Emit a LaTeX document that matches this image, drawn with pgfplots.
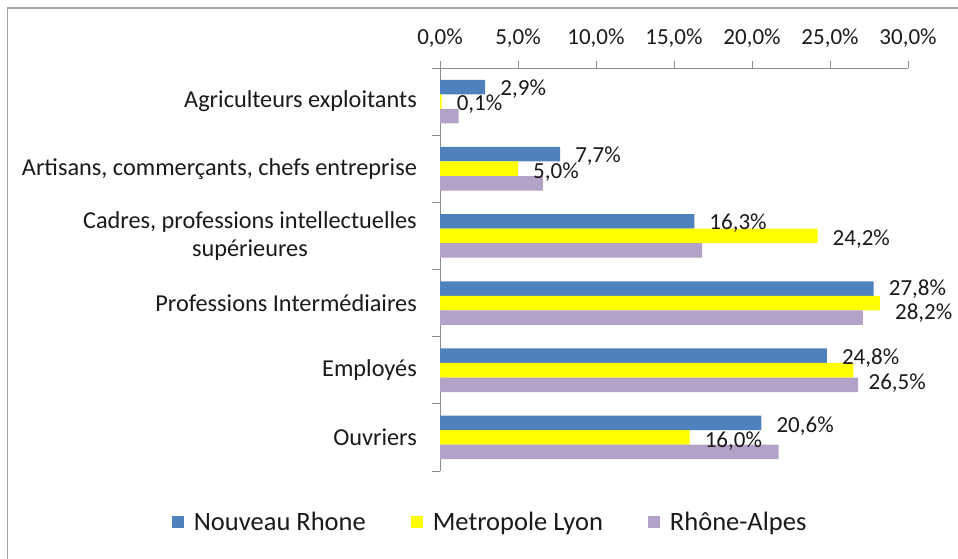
\documentclass[border=0pt]{standalone}
\usepackage{fontspec}
\setmainfont{Carlito}
\usepackage{pgfplots}
\usepackage{pgfplotstable}
\pgfplotsset{compat=1.18}
\definecolor{nrblue}{HTML}{4F81BD}
\definecolor{mlyellow}{HTML}{FFFF00}
\definecolor{rapurple}{HTML}{B3A2C7}
\definecolor{axgray}{HTML}{8C8C8C}
\definecolor{txt}{HTML}{1A1A1A}

\pgfplotstableread{
y x dy
5 2.9 -2
4 7.7 -2
3 16.3 -2
2 27.8 -1
1 24.8 -2
0 20.6 -3
}\nrdata
\pgfplotstableread{
y x dy
5 0.1 -3
4 5.0 -3
3 24.2 -3
2 28.2 -10
1 26.5 -13
0 16.0 -4
}\mldata
\pgfplotstableread{
y x
5 1.2
4 6.6
3 16.8
2 27.1
1 26.8
0 21.7
}\radata

\begin{document}
\begin{tikzpicture}[x=1pt,y=1pt]
\path[use as bounding box] (0,0) rectangle (958,559);
\draw[gray!70, line width=1.5pt] (7.5,-5) -- (7.5,551) -- (965,551);
\begin{axis}[
  at={(440pt,88pt)}, anchor=south west,
  scale only axis, width=468pt, height=403pt,
  xbar, clip=false,
  xmin=0, xmax=30, ymin=-0.5, ymax=5.5,
  axis x line*=top, axis y line*=left,
  axis line style={axgray, line width=0.9pt},
  tick align=outside,
  major tick length=7pt, minor tick length=8pt,
  tick style={axgray, line width=0.9pt},
  major y tick style={draw=none},
  xtick={0,5,...,30},
  xticklabels={{0,0\%},{5,0\%},{10,0\%},{15,0\%},{20,0\%},{25,0\%},{30,0\%}},
  ytick={0,...,5},
  minor ytick={-0.5,0.5,...,5.5},
  yticklabels={Ouvriers, Employés, Professions Intermédiaires, {Cadres, professions intellectuelles\\supérieures}, {Artisans, commerçants, chefs entreprise}, Agriculteurs exploitants},
  xticklabel style={font=\fontsize{23}{28}\selectfont, text=txt, inner sep=0pt, yshift=13pt},
  yticklabel style={font=\fontsize{24.3}{28}\selectfont, text=txt, align=center, inner sep=0pt, xshift=-16pt},
  /pgf/number format/assume math mode=true,
  bar width=0.216,
  legend columns=3,
  legend style={draw=none, at={(axis description cs:0.105,-0.1266)}, anchor=center,
    font=\fontsize{26.5}{30}\selectfont, text=txt,
    nodes={inner sep=0pt},
    /tikz/every odd column/.append style={column sep=10pt},
    /tikz/every even column/.append style={column sep=45pt}},
  legend image code/.code={\draw[#1,draw=none] (0pt,-6pt) rectangle (12pt,6pt);},
  every node near coord/.append style={anchor=west, inner sep=0pt, xshift=15pt,
     font=\fontsize{23}{28}\selectfont, text=txt},
]
\addplot[fill=nrblue, draw=none, bar shift=0.216, point meta=x,
  visualization depends on=\thisrow{dy}\as\dy,
  nodes near coords={\pgfmathprintnumber[fixed,fixed zerofill,precision=1,use comma]{\pgfplotspointmeta}\%},
  every node near coord/.append style={yshift=\dy pt}]
  table[x=x,y=y]{\nrdata};
\addlegendentry{Nouveau Rhone}
\addplot[fill=mlyellow, draw=none, bar shift=0, point meta=x,
  visualization depends on=\thisrow{dy}\as\dy,
  nodes near coords={\pgfmathprintnumber[fixed,fixed zerofill,precision=1,use comma]{\pgfplotspointmeta}\%},
  every node near coord/.append style={yshift=\dy pt}]
  table[x=x,y=y]{\mldata};
\addlegendentry{Metropole Lyon}
\addplot[fill=rapurple, draw=none, bar shift=-0.216]
  table[x=x,y=y]{\radata};
\addlegendentry{Rhône-Alpes}
\end{axis}
\end{tikzpicture}
\end{document}
